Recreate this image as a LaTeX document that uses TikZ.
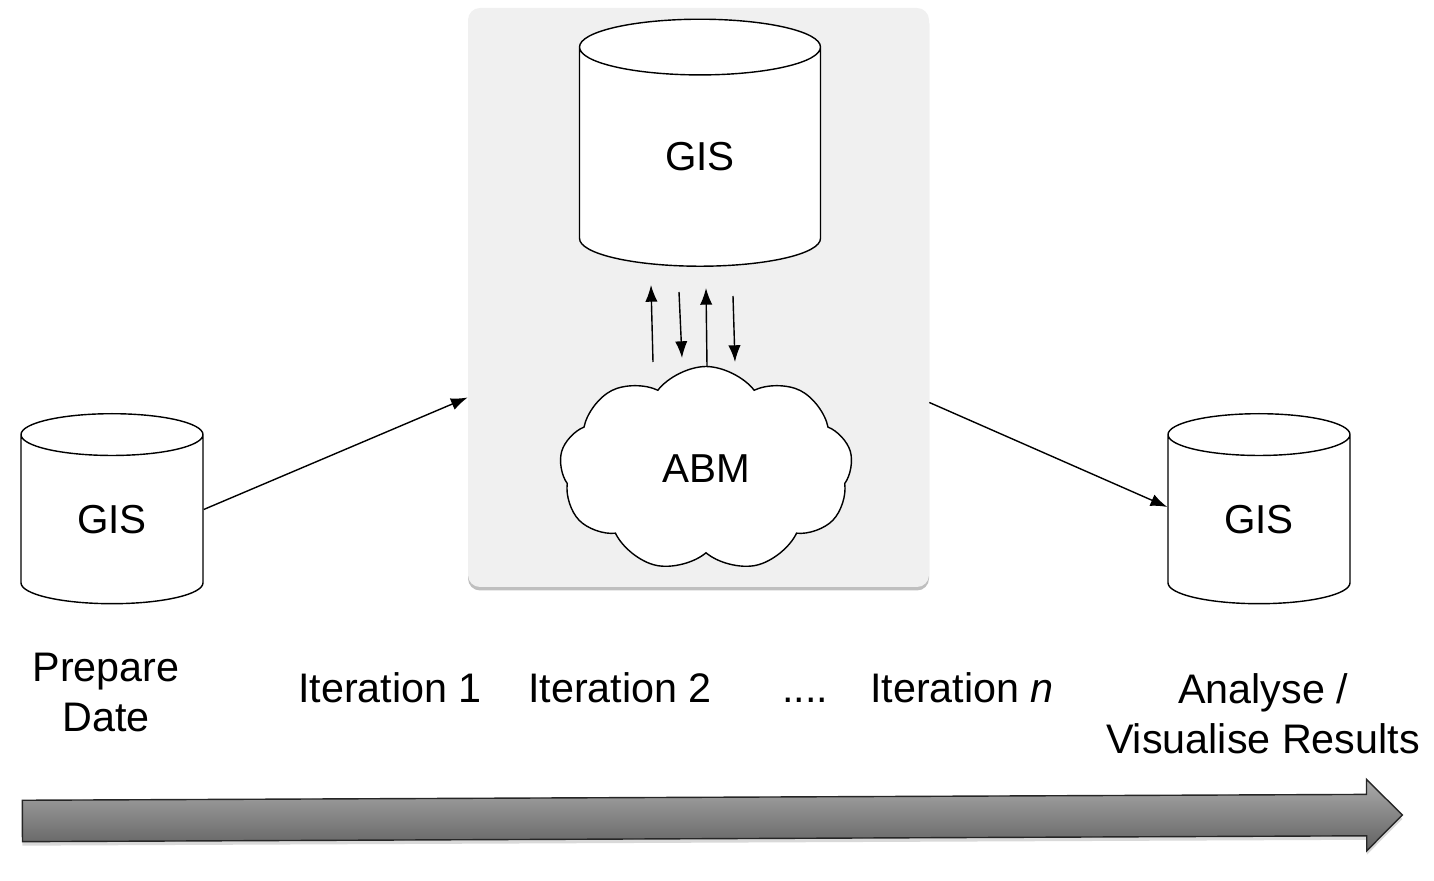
\documentclass[tikz,border=0pt]{standalone}
\usepackage{fontspec}
\setmainfont{Liberation Sans}
\usetikzlibrary{shapes.geometric,shapes.symbols,shapes.arrows,shadows,arrows.meta,positioning}

\begin{document}
\begin{tikzpicture}[
    db/.style={cylinder, shape border rotate=90, draw, fill=white, line width=0.8pt, inner sep=0pt, font=\fontsize{23}{28}\selectfont},
    panel/.style={rectangle, rounded corners=0.24cm, fill=black!6, minimum width=9.22cm, minimum height=11.58cm, drop shadow={shadow xshift=0pt, shadow yshift=-0.07cm, opacity=0.5}},
    model/.style={cloud, cloud puffs=9, cloud puff arc=105, aspect=1.45, draw, fill=white, line width=0.8pt, minimum width=5.86cm, minimum height=4.1cm, font=\fontsize{23}{28}\selectfont},
    steplabel/.style={font=\fontsize{23.5}{28.5}\selectfont, align=center, inner sep=0pt},
    arrow/.style={-{Latex[length=9.5pt,width=7pt]}, line width=0.8pt},
    timeline/.style={single arrow, draw=black!85, line width=0.8pt, top color=black!33, bottom color=black!62, text height=0.8cm, text depth=0pt, minimum height=27.6cm, single arrow head extend=0.3cm, inner sep=0pt, rotate=0.25, drop shadow={shadow xshift=0pt, shadow yshift=-0.08cm, opacity=0.3}}
]
\useasboundingbox (0,0) rectangle (28.68,-17.62);

% Simulation panel
\node[panel] (sim) at (13.97,-5.95) {};

% Data stores
\node[db, aspect=0.8, minimum width=4.82cm, minimum height=4.94cm] (gisModel) at (14.0,-3.14) {GIS};
\node[db, aspect=0.6, minimum width=3.64cm, minimum height=3.8cm] (gisPrep) at (2.24,-10.39) {GIS};
\node[db, aspect=0.6, minimum width=3.64cm, minimum height=3.8cm] (gisResult) at (25.18,-10.39) {GIS};

% Agent based model
\node[model] (abm) at (14.12,-9.38) {ABM};

% Exchange between GIS and ABM
\coordinate (up1s) at (13.06,-7.24);
\coordinate (up1e) at (13.02,-5.70);
\coordinate (dn1s) at (13.58,-5.84);
\coordinate (dn1e) at (13.64,-7.16);
\coordinate (up2s) at (14.14,-7.32);
\coordinate (up2e) at (14.12,-5.76);
\coordinate (dn2s) at (14.66,-5.92);
\coordinate (dn2e) at (14.70,-7.24);
\draw[arrow] (up1s) -- (up1e);
\draw[arrow] (dn1s) -- (dn1e);
\draw[arrow] (up2s) -- (up2e);
\draw[arrow] (dn2s) -- (dn2e);

% Data flow
\draw[arrow] ([yshift=0.2cm]gisPrep.east) -- ([yshift=-2cm]sim.west);
\draw[arrow] ([yshift=-2.1cm]sim.east) -- ([yshift=0.25cm]gisResult.west);

% Steps
\node[steplabel] (prep) at (2.12,-13.85) {Prepare\\Date};
\node[steplabel, anchor=base] (iter1) at (7.8,-14.06) {Iteration 1};
\node[steplabel, anchor=base] (iter2) at (12.4,-14.06) {Iteration 2};
\node[steplabel, anchor=base] (dots) at (16.1,-14.06) {....};
\node[steplabel, anchor=base] (iterN) at (19.24,-14.06) {Iteration \textit{n}};
\node[steplabel] (analyse) at (25.26,-14.28) {Analyse /\\Visualise Results};

% Time line
\node[timeline] (time) at (14.04,-16.36) {};

\end{tikzpicture}
\end{document}
